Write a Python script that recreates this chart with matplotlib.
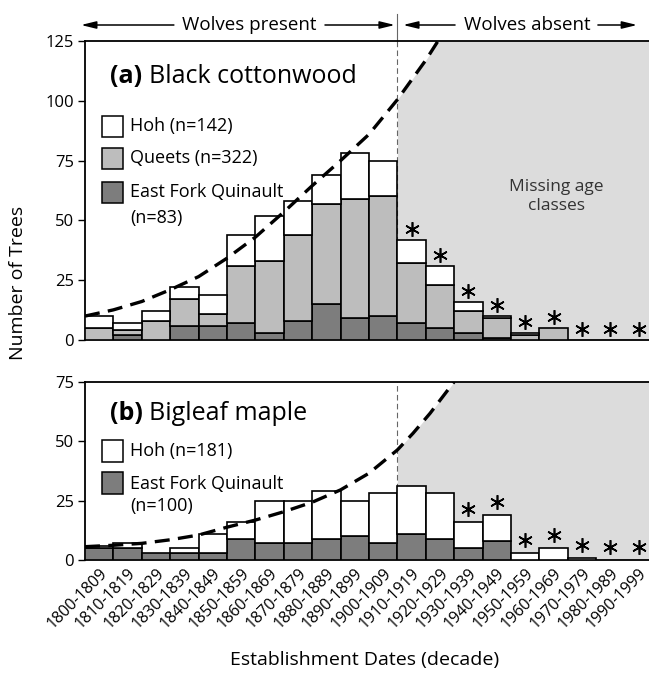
import matplotlib
matplotlib.use("Agg")
import matplotlib.pyplot as plt
import matplotlib.transforms as mtransforms
from matplotlib.patches import Rectangle
import numpy as np

plt.rcParams['font.family'] = ['Open Sans', 'DejaVu Sans']

decades = ["1800-1809", "1810-1819", "1820-1829", "1830-1839", "1840-1849",
           "1850-1859", "1860-1869", "1870-1879", "1880-1889", "1890-1899",
           "1900-1909", "1910-1919", "1920-1929", "1930-1939", "1940-1949",
           "1950-1959", "1960-1969", "1970-1979", "1980-1989", "1990-1999"]

# Panel (a) Black cottonwood (stacked: EFQ bottom, Queets middle, Hoh top)
a_efq    = [0, 2, 0, 6, 6, 7, 3, 8, 15, 9, 10, 7, 5, 3, 1, 0, 0, 0, 0, 0]
a_queets = [5, 2, 8, 11, 5, 24, 30, 36, 42, 50, 50, 25, 18, 9, 8, 2, 5, 0, 0, 0]
a_hoh    = [5, 3, 4, 5, 8, 13, 19, 14, 12, 19, 15, 10, 8, 4, 1, 1, 0, 0, 0, 0]
a_star   = [False]*11 + [True]*9

# Panel (b) Bigleaf maple (stacked: EFQ bottom, Hoh top)
b_efq = [5, 5, 3, 3, 3, 9, 7, 7, 9, 10, 7, 11, 9, 5, 8, 0, 0, 0, 0, 0]
b_hoh = [1, 2, 0, 2, 8, 7, 18, 18, 20, 15, 21, 20, 19, 11, 11, 3, 5, 1, 0, 0]
b_star = [False]*13 + [True]*7

# Dashed expected-recruitment curves (read at decade boundaries)
a_curve_x = [-0.5, 0.5, 1.5, 2.5, 3.5, 4.5, 5.5, 6.5, 7.5, 8.5, 9.5, 10.5, 11.5, 11.93]
a_curve_y = [10, 12.6, 16.1, 21, 26.5, 34.2, 43, 53.5, 64.5, 75, 86, 100.5, 117, 125]
b_curve_x = [-0.5, 0.5, 1.5, 2.5, 3.5, 4.5, 5.5, 6.5, 7.5, 8.5, 9.5, 10.5, 11.05, 11.65, 12.5]
b_curve_y = [5.6, 6.2, 7.0, 8.5, 10.5, 13.8, 16.8, 20.3, 24.3, 29.5, 36.5, 46.3, 53.3, 61.7, 75]

split = 10.5
W, H = 649, 678
fig = plt.figure(figsize=(W/100, H/100), dpi=100)

def px_axes(l, t, r, b):
    return fig.add_axes([l/W, 1-b/H, (r-l)/W, (b-t)/H])

ax1 = px_axes(85, 41, 653, 340)
ax2 = px_axes(85, 381.7, 653, 560)

c_white = 'white'
c_light = '#bdbdbd'
c_dark = '#7d7d7d'
c_shade = '#dcdcdc'
x = np.arange(len(decades))

def shade(ax, cx, cy, ymax):
    cx = np.array(cx); cy = np.array(cy)
    m = cx >= split
    xs = np.concatenate([cx[m], [19.5]])
    ys = np.concatenate([cy[m], [ymax]])
    ax.fill_between(xs, 0, ys, color=c_shade, lw=0, zorder=0)

def style(ax, ymax, yticks):
    ax.set_xlim(-0.5, 19.5)
    ax.set_ylim(0, ymax)
    ax.set_yticks(yticks)
    ax.spines['right'].set_visible(False)
    for s in ['left', 'top', 'bottom']:
        ax.spines[s].set_linewidth(1.3)
    ax.tick_params(axis='y', direction='out', length=5, width=1, labelsize=12, pad=3)
    ax.tick_params(axis='x', length=0)
    ax.axvline(split, color='#666666', lw=0.8, dashes=(5, 3), zorder=1)

lw = 1.2
# ---- Panel (a)
shade(ax1, a_curve_x, a_curve_y, 125)
b1 = np.array(a_efq)
ax1.bar(x, a_efq, width=1.0, color=c_dark, edgecolor='black', lw=lw, zorder=3)
ax1.bar(x, a_queets, bottom=b1, width=1.0, color=c_light, edgecolor='black', lw=lw, zorder=3)
b2 = b1 + np.array(a_queets)
tot_a = b2 + np.array(a_hoh)
ax1.bar(x, a_hoh, bottom=b2, width=1.0, color=c_white, edgecolor='black', lw=lw, zorder=3)
for p in ax1.patches:
    if isinstance(p, Rectangle) and p.get_height() == 0:
        p.set_visible(False)
ax1.plot(a_curve_x, a_curve_y, color='black', lw=2.4, dashes=(4.5, 2.5), zorder=4, clip_on=True)
sx = x[np.array(a_star)]
ax1.plot(sx, tot_a[np.array(a_star)] + 4.5, ls='none', marker=(6, 2, 0), ms=10.5, mew=1.2, color='black', zorder=5)
style(ax1, 125, [0, 25, 50, 75, 100, 125])
ax1.set_xticks([])
ax1.text(0.044, 0.88, '(a)', transform=ax1.transAxes, fontsize=18, fontweight='bold', va='center', ha='left')
ax1.text(0.112, 0.88, 'Black cottonwood', transform=ax1.transAxes, fontsize=18, va='center', ha='left')
ax1.text(16.1, 60, 'Missing age\nclasses', fontsize=12.5, ha='center', va='center', color='#333333', linespacing=1.2, zorder=2)

def key(ax, y0, h, color, label, yc):
    ax.add_patch(Rectangle((0.030, y0), 0.037, h, transform=ax.transAxes, facecolor=color,
                           edgecolor='black', lw=1.1, zorder=6))
    ax.text(0.079, yc, label, transform=ax.transAxes, fontsize=13, va='center', ha='left', zorder=6)

hA = 21/299
key(ax1, (340-137)/299, hA, c_white, 'Hoh (n=142)', (340-126.5)/299)
key(ax1, (340-169)/299, hA, c_light, 'Queets (n=322)', (340-158)/299)
key(ax1, (340-203)/299, hA, c_dark, 'East Fork Quinault', (340-192.5)/299)
ax1.text(0.079, (340-218)/299, '(n=83)', transform=ax1.transAxes, fontsize=13, va='center', ha='left')

# ---- Panel (b)
shade(ax2, b_curve_x, b_curve_y, 75)
ax2.bar(x, b_efq, width=1.0, color=c_dark, edgecolor='black', lw=lw, zorder=3)
ax2.bar(x, b_hoh, bottom=b_efq, width=1.0, color=c_white, edgecolor='black', lw=lw, zorder=3)
for p in ax2.patches:
    if isinstance(p, Rectangle) and p.get_height() == 0:
        p.set_visible(False)
tot_b = np.array(b_efq) + np.array(b_hoh)
ax2.plot(b_curve_x, b_curve_y, color='black', lw=2.4, dashes=(4.5, 2.5), zorder=4)
bx = x[np.array(b_star)]
ax2.plot(bx, tot_b[np.array(b_star)] + 5.5, ls='none', marker=(6, 2, 0), ms=10.5, mew=1.2, color='black', zorder=5)
style(ax2, 75, [0, 25, 50, 75])
ax2.set_xticks(x)
ax2.set_xticklabels(decades, rotation=45, ha='right', rotation_mode='anchor', fontsize=11.5)
ax2.tick_params(axis='x', pad=4)
ax2.text(0.044, 0.824, '(b)', transform=ax2.transAxes, fontsize=18, fontweight='bold', va='center', ha='left')
ax2.text(0.112, 0.824, 'Bigleaf maple', transform=ax2.transAxes, fontsize=18, va='center', ha='left')
hB = 22/178.3
key(ax2, (560-462)/178.3, hB, c_white, 'Hoh (n=181)', (560-451)/178.3)
key(ax2, (560-494)/178.3, hB, c_dark, 'East Fork Quinault', (560-483.5)/178.3)
ax2.text(0.079, (560-506)/178.3, '(n=100)', transform=ax2.transAxes, fontsize=13, va='center', ha='left')

# ---- Header arrows
tr = mtransforms.blended_transform_factory(ax1.transData, fig.transFigure)
yh = 1 - 25/H
ap = dict(arrowstyle='-|>,head_length=0.9,head_width=0.22', color='black', lw=1.1, shrinkA=0, shrinkB=0)
def arrow(x0, x1):
    ax1.annotate('', xy=(x1, yh), xytext=(x0, yh), xycoords=tr, textcoords=tr, arrowprops=ap, annotation_clip=False)
arrow(2.63, -0.64)
arrow(7.95, 10.41)
arrow(12.53, 10.70)
arrow(17.56, 18.94)
ax1.text(5.27, yh, 'Wolves present', transform=tr, ha='center', va='center', fontsize=13.5)
ax1.text(15.06, yh, 'Wolves absent', transform=tr, ha='center', va='center', fontsize=13.5)
ax1.plot([split, split], [1 - 14/H, 1 - 41/H], transform=tr, color='#666666', lw=0.8, clip_on=False)

fig.text(18/W, 1 - 283/H, 'Number of Trees', rotation=90, ha='center', va='center', fontsize=14)
fig.text(365/W, 1 - 660/H, 'Establishment Dates (decade)', ha='center', va='center', fontsize=14)

fig.savefig('out.png', dpi=100, facecolor='white')
